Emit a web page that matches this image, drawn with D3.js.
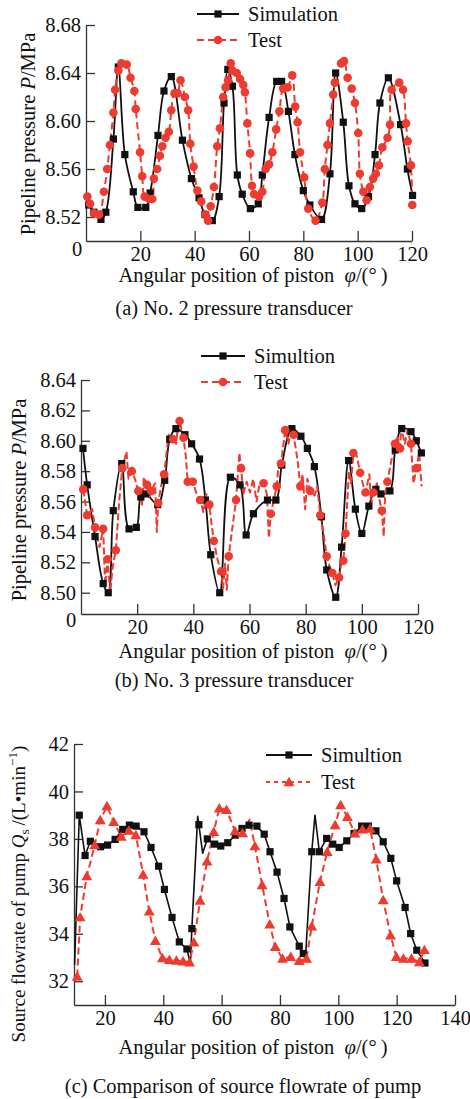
<!DOCTYPE html>
<html>
<head>
<meta charset="utf-8">
<script src="https://cdn.jsdelivr.net/npm/d3@7"></script>
<style>
  body { margin: 0; background: #fff; }
  svg text { font-family: "Liberation Serif", "Times New Roman", serif; fill: #111; }
</style>
</head>
<body>
<svg id="chart" width="470" height="1099"></svg>
<script>
// ---------- (a) No. 2 pressure transducer: [angle (deg), pressure (MPa)] ----------
const simA = [
  [1.0,8.530],[2.9,8.524],[5.5,8.518],[7.3,8.524],[10.1,8.585],[11.9,8.645],[14.3,8.572],[17.4,8.541],
  [19.1,8.528],[22.0,8.528],[23.6,8.540],[26.5,8.588],[28.7,8.625],[31.4,8.637],[35.5,8.584],[38.8,8.552],
  [41.6,8.536],[43.8,8.522],[46.5,8.517],[49.0,8.537],[50.8,8.615],[52.2,8.643],[53.9,8.629],[55.7,8.555],
  [57.5,8.539],[60.5,8.527],[63.4,8.531],[64.9,8.555],[67.4,8.603],[70.2,8.633],[72.0,8.633],[74.5,8.608],
  [76.9,8.572],[80.0,8.542],[82.4,8.530],[86.7,8.518],[89.8,8.556],[91.9,8.640],[94.7,8.599],[96.8,8.546],
  [99.0,8.531],[101.5,8.527],[104.0,8.537],[106.4,8.572],[108.2,8.615],[111.3,8.636],[115.8,8.597],
  [118.3,8.560],[120.2,8.538]
];
const testA = [
  [0.5,8.537],[1.5,8.531],[2.9,8.523],[4.8,8.522],[6.6,8.541],[7.8,8.560],[8.8,8.580],[10.1,8.607],
  [10.7,8.626],[11.9,8.642],[13.0,8.648],[15.0,8.647],[16.4,8.636],[17.8,8.625],[18.3,8.610],[19.9,8.574],
  [20.7,8.554],[21.6,8.537],[23.2,8.535],[24.4,8.535],[25.0,8.552],[26.2,8.560],[27.2,8.571],[28.1,8.579],
  [29.3,8.586],[30.5,8.591],[31.4,8.609],[32.6,8.623],[33.7,8.623],[34.8,8.634],[36.4,8.620],[37.6,8.609],
  [38.4,8.581],[39.6,8.562],[41.0,8.542],[42.4,8.533],[44.0,8.522],[44.9,8.517],[45.9,8.529],[47.1,8.545],
  [48.3,8.579],[49.3,8.594],[50.5,8.620],[51.4,8.628],[52.3,8.634],[53.3,8.648],[53.9,8.642],[55.5,8.640],
  [56.7,8.635],[57.9,8.630],[58.5,8.624],[59.4,8.598],[60.4,8.573],[61.1,8.546],[61.9,8.539],[63.7,8.537],
  [64.9,8.541],[66.1,8.560],[67.4,8.564],[68.6,8.574],[70.0,8.593],[71.2,8.608],[72.6,8.627],[74.2,8.628],
  [75.9,8.638],[77.0,8.612],[77.9,8.599],[78.8,8.574],[80.3,8.553],[81.8,8.527],[84.5,8.517],[87.0,8.532],
  [87.9,8.560],[88.9,8.580],[89.8,8.598],[91.0,8.622],[91.6,8.632],[93.9,8.648],[95.0,8.650],[96.3,8.636],
  [97.8,8.627],[99.0,8.615],[100.2,8.590],[100.8,8.556],[102.1,8.541],[103.3,8.534],[104.5,8.545],
  [105.7,8.552],[106.7,8.556],[107.8,8.563],[109.1,8.578],[111.0,8.586],[111.9,8.597],[112.5,8.626],
  [115.3,8.632],[116.7,8.626],[117.8,8.598],[118.4,8.583],[119.6,8.563],[120.1,8.530]
];

// ---------- (b) No. 3 pressure transducer ----------
const simB = [
  [0.7,8.595],[2.2,8.571],[5.0,8.537],[7.9,8.506],[9.7,8.500],[11.5,8.554],[14.5,8.585],[17.1,8.542],
  [19.7,8.543],[21.3,8.563],[23.1,8.565],[27.3,8.558],[29.8,8.574],[31.6,8.601],[33.8,8.608],[37.0,8.604],
  [39.4,8.598],[42.2,8.588],[44.3,8.561],[46.2,8.525],[49.4,8.500],[53.2,8.576],[56.6,8.571],[58.8,8.538],
  [61.4,8.552],[66.4,8.561],[69.4,8.561],[71.5,8.584],[75.1,8.608],[78.3,8.603],[80.6,8.595],[83.1,8.583],
  [85.6,8.550],[87.5,8.515],[90.7,8.497],[92.8,8.530],[95.3,8.587],[97.7,8.555],[100.0,8.539],[102.5,8.557],
  [105.0,8.568],[106.8,8.565],[110.0,8.567],[111.9,8.594],[114.2,8.608],[117.5,8.606],[119.4,8.600],
  [121.2,8.592]
];
// circles of the measured trace
const testB = [
  [0.8,8.568],[2.2,8.551],[5.0,8.543],[7.9,8.542],[9.5,8.522],[12.4,8.528],[14.7,8.582],[18.1,8.580],
  [20.4,8.567],[23.5,8.571],[25.0,8.567],[27.5,8.559],[29.6,8.578],[32.8,8.601],[35.1,8.613],[36.5,8.602],
  [38.0,8.573],[39.8,8.573],[42.4,8.561],[45.7,8.558],[47.3,8.534],[49.9,8.514],[52.6,8.524],[55.2,8.561],
  [57.0,8.582],[65.0,8.572],[67.6,8.552],[69.7,8.570],[71.2,8.585],[72.7,8.607],[75.7,8.604],[78.1,8.570],
  [81.6,8.567],[85.2,8.551],[87.5,8.524],[89.5,8.513],[91.9,8.510],[93.4,8.521],[94.2,8.539],[97.0,8.592],
  [99.4,8.579],[101.3,8.566],[104.1,8.566],[107.1,8.554],[109.1,8.573],[111.8,8.598],[113.6,8.595],
  [117.5,8.598],[119.5,8.582]
];
// fluctuations of the measured trace between the circles
const testBNoise = [
  [4.0,8.555],[6.6,8.530],[8.6,8.505],[10.4,8.500],[11.2,8.516],[13.6,8.560],[16.2,8.593],[16.9,8.575],
  [19.2,8.575],[21.7,8.558],[22.4,8.576],[24.2,8.562],[26.4,8.572],[27.0,8.540],[28.5,8.570],[31.2,8.604],
  [33.9,8.598],[34.4,8.608],[37.3,8.590],[41.0,8.566],[43.6,8.553],[44.6,8.565],[46.5,8.545],[48.6,8.522],
  [50.6,8.503],[51.3,8.519],[51.9,8.502],[53.7,8.540],[56.4,8.592],[57.8,8.565],[59.0,8.573],[60.2,8.566],
  [61.3,8.575],[62.5,8.560],[63.6,8.572],[66.2,8.565],[66.9,8.536],[70.5,8.588],[73.9,8.598],[74.8,8.608],
  [77.2,8.586],[78.9,8.578],[79.8,8.555],[80.6,8.575],[83.2,8.564],[84.1,8.570],[86.3,8.540],[88.4,8.518],
  [90.6,8.505],[92.6,8.518],[95.4,8.580],[96.1,8.572],[98.2,8.590],[100.3,8.572],[102.7,8.578],[103.3,8.558],
  [105.4,8.572],[106.4,8.560],[107.8,8.537],[108.3,8.565],[110.4,8.586],[112.6,8.603],[114.0,8.609],
  [115.3,8.598],[116.3,8.607],[118.4,8.572],[120.4,8.592],[121.3,8.570]
];

// ---------- (c) Source flowrate of pump: [angle (deg), flow (L/min)] ----------
const simC = [
  [11.2,39.0],[13.2,37.3],[15.0,37.9],[18.5,37.67],[20.9,37.74],[23.5,37.98],[26.1,38.4],[28.4,38.58],
  [30.7,38.54],[33.4,38.3],[35.8,37.64],[38.4,36.85],[40.4,35.87],[43.0,34.69],[45.5,33.66],[48.1,33.36],
  [49.8,34.22],[52.2,38.6],[55.1,38.0],[57.6,37.78],[59.7,37.7],[62.1,37.84],[64.7,38.16],[67.0,38.44],
  [69.4,38.58],[72.1,38.54],[74.6,38.2],[76.6,37.46],[79.0,36.6],[81.4,35.49],[83.4,34.29],[86.6,33.48],
  [88.0,33.17],[90.9,37.46],[93.5,37.46],[96.0,38.02],[98.1,37.78],[100.3,37.64],[102.9,37.92],[105.4,38.23],
  [108.0,38.54],[110.3,38.54],[112.9,38.34],[115.4,37.88],[118.0,37.18],[120.0,36.23],[122.9,35.11],
  [124.8,34.01],[126.9,33.31],[129.7,32.77]
];
// unmarked turning points of the simulated curve (start, troughs, spikes)
const simCTurns = [[9.6,32.7],[49.3,32.75],[51.8,38.95],[53.5,37.4],[88.7,32.9],[92.0,39.0]];
const testC = [
  [10.5,32.2],[11.5,34.7],[13.8,36.43],[16.5,37.74],[18.4,38.79],[20.7,39.38],[23.0,38.72],[25.6,38.1],
  [28.2,38.35],[30.6,38.16],[33.1,36.5],[35.2,34.95],[37.3,33.7],[39.7,32.98],[42.1,32.9],[44.5,32.87],
  [46.8,32.84],[49.0,32.8],[50.5,33.64],[52.6,35.4],[55.0,37.05],[57.3,38.3],[59.2,39.29],[61.7,39.23],
  [64.6,38.33],[67.2,38.25],[71.4,37.7],[73.9,36.05],[76.5,34.4],[78.4,33.45],[80.9,32.96],[83.7,33.03],
  [86.6,32.86],[89.1,32.96],[90.9,34.32],[93.7,36.19],[96.2,37.46],[98.9,38.58],[100.8,39.43],[103.1,38.93],
  [105.7,38.23],[108.3,38.4],[110.9,38.44],[113.0,37.14],[115.4,35.42],[117.9,33.94],[119.9,33.03],
  [122.3,32.96],[125.1,32.96],[127.8,32.81],[129.5,33.32]
];
const testCTurns = [[69.6,38.82]];

// ---------- tick values ----------
const xTicksAB = [20, 40, 60, 80, 100, 120];
const yTicksA = [8.52, 8.56, 8.60, 8.64, 8.68];
const yTicksB = [8.50, 8.52, 8.54, 8.56, 8.58, 8.60, 8.62, 8.64];
const xTicksC = [20, 40, 60, 80, 100, 120, 140];
const yTicksC = [32, 34, 36, 38, 40, 42];

// ---------- drawing ----------
const svg = d3.select("#chart");
const RED = "#ee3a2f", INK = "#111", AXIS = "#333";
const FS = 20.5;
const byX = pts => d3.sort(pts, d => d[0]);

function axes(x, y, xTicks, yTicks, yFmt) {
  const gx = svg.append("g")
    .attr("transform", `translate(0,${y.range()[0]})`)
    .call(d3.axisBottom(x).tickValues(xTicks).tickSizeInner(-10).tickSizeOuter(0)
      .tickPadding(5).tickFormat(d3.format("d")));
  const gy = svg.append("g")
    .attr("transform", `translate(${x.range()[0]},0)`)
    .call(d3.axisLeft(y).tickValues(yTicks).tickSizeInner(-9).tickSizeOuter(0)
      .tickPadding(5).tickFormat(yFmt));
  [gx, gy].forEach(g => {
    g.attr("font-family", null).attr("font-size", null);
    g.selectAll("path.domain, line").attr("stroke", AXIS).attr("stroke-width", 1.3);
    g.selectAll("text").attr("font-size", FS).attr("fill", INK);
  });
}

function trace(x, y, pts, color, width, dash, curve) {
  const line = d3.line().x(d => x(d[0])).y(d => y(d[1])).curve(curve);
  svg.append("path").datum(pts)
    .attr("fill", "none").attr("stroke", color).attr("stroke-width", width)
    .attr("stroke-dasharray", dash).attr("stroke-linejoin", "round")
    .attr("d", line);
}

function marker(g, shape, cx, cy, color) {
  if (shape === "square") {
    g.append("rect").attr("x", cx - 3.6).attr("y", cy - 3.6).attr("width", 7.2).attr("height", 7.2)
      .attr("fill", color);
  } else if (shape === "circle") {
    g.append("circle").attr("cx", cx).attr("cy", cy).attr("r", 4.3).attr("fill", color);
  } else {
    g.append("path").attr("d", d3.symbol(d3.symbolTriangle, 52)())
      .attr("transform", `translate(${cx},${cy + 1})`).attr("fill", color);
  }
}

function markers(x, y, pts, shape, color) {
  const g = svg.append("g");
  pts.forEach(d => marker(g, shape, x(d[0]), y(d[1]), color));
}

function legend(x1, x2, yLine, yText, shape, color, dash, label, width) {
  const g = svg.append("g");
  g.append("line").attr("x1", x1).attr("x2", x2).attr("y1", yLine).attr("y2", yLine)
    .attr("stroke", color).attr("stroke-width", width).attr("stroke-dasharray", dash);
  marker(g, shape, (x1 + x2) / 2, yLine, color);
  g.append("text").attr("x", x2 + 9).attr("y", yText).attr("font-size", FS).text(label);
}

function text(x, y, str, anchor = "middle") {
  return svg.append("text").attr("x", x).attr("y", y).attr("text-anchor", anchor).attr("font-size", FS).text(str);
}

function xTitle(cx, y) {
  const t = text(cx, y, "Angular position of piston\u00A0\u00A0");
  t.append("tspan").attr("font-style", "italic").text("\u03C6");
  t.append("tspan").text("/(\u00B0\u2009)");
}

function yTitlePressure(bx, cy) {
  const t = svg.append("text").attr("transform", `translate(${bx},${cy}) rotate(-90)`)
    .attr("text-anchor", "middle").attr("font-size", FS);
  t.append("tspan").text("Pipeline pressure ");
  t.append("tspan").attr("font-style", "italic").text("P");
  t.append("tspan").text("/MPa");
}

const fmt2 = d3.format(".2f");

// ----- panel (a) -----
{
  const x = d3.scaleLinear().domain([0, 120]).range([86, 412]);
  const y = d3.scaleLinear().domain([8.50, 8.68]).range([241, 25]);
  axes(x, y, xTicksAB, yTicksA, fmt2);
  text(77, 256, "0");
  trace(x, y, simA, INK, 1.8, null, d3.curveCatmullRom.alpha(0.5));
  trace(x, y, testA, RED, 2, "7,4", d3.curveCatmullRom.alpha(0.5));
  markers(x, y, simA, "square", INK);
  markers(x, y, testA, "circle", RED);
  legend(197, 239, 14, 21, "square", INK, null, "Simulation", 1.8);
  legend(197, 239, 40, 47, "circle", RED, "7,4", "Test", 2);
  xTitle(253, 282);
  text(234, 315, "(a) No. 2 pressure transducer");
  yTitlePressure(35, 134);
}

// ----- panel (b) -----
{
  const x = d3.scaleLinear().domain([0, 120]).range([81, 418]);
  const y = d3.scaleLinear().domain([8.486, 8.64]).range([614, 380]);
  axes(x, y, xTicksAB, yTicksB, fmt2);
  text(71, 627, "0");
  trace(x, y, simB, INK, 1.8, null, d3.curveCatmullRom.alpha(0.5));
  trace(x, y, byX(testB.concat(testBNoise)), RED, 2, "7,3", d3.curveLinear);
  markers(x, y, simB, "square", INK);
  markers(x, y, testB, "circle", RED);
  legend(201, 245, 356, 363, "square", INK, null, "Simultion", 1.8);
  legend(201, 245, 382, 389, "circle", RED, "7,4", "Test", 2);
  xTitle(253, 658);
  text(234, 687, "(b) No. 3 pressure transducer");
  yTitlePressure(26, 500);
}

// ----- panel (c) -----
{
  const x = d3.scaleLinear().domain([9.4, 140]).range([74, 455]);
  const y = d3.scaleLinear().domain([31, 42]).range([1005, 744]);
  axes(x, y, xTicksC, yTicksC, d3.format("d"));
  trace(x, y, byX(simC.concat(simCTurns)), INK, 1.6, null, d3.curveLinear);
  trace(x, y, byX(testC.concat(testCTurns)), RED, 2, "7,4", d3.curveLinear);
  markers(x, y, simC, "square", INK);
  markers(x, y, testC, "triangle", RED);
  legend(266, 312, 755, 762, "square", INK, null, "Simultion", 1.8);
  legend(266, 312, 782, 789, "triangle", RED, "4,4", "Test", 2);
  xTitle(253, 1054);
  text(243, 1093, "(c) Comparison of source flowrate of pump");
  const fq = 19;
  const t = svg.append("text").attr("transform", "translate(25,894) rotate(-90)")
    .attr("text-anchor", "middle").attr("font-size", fq);
  t.append("tspan").text("Source flowrate of pump ");
  t.append("tspan").attr("font-style", "italic").text("Q");
  t.append("tspan").attr("font-size", fq * 0.7).attr("dy", 4).text("s");
  t.append("tspan").attr("dy", -4).text("\u2009/(L\u2022min");
  t.append("tspan").attr("font-size", fq * 0.7).attr("dy", -8).text("\u22121");
  t.append("tspan").attr("dy", 8).text(")");
}
</script>
</body>
</html>
